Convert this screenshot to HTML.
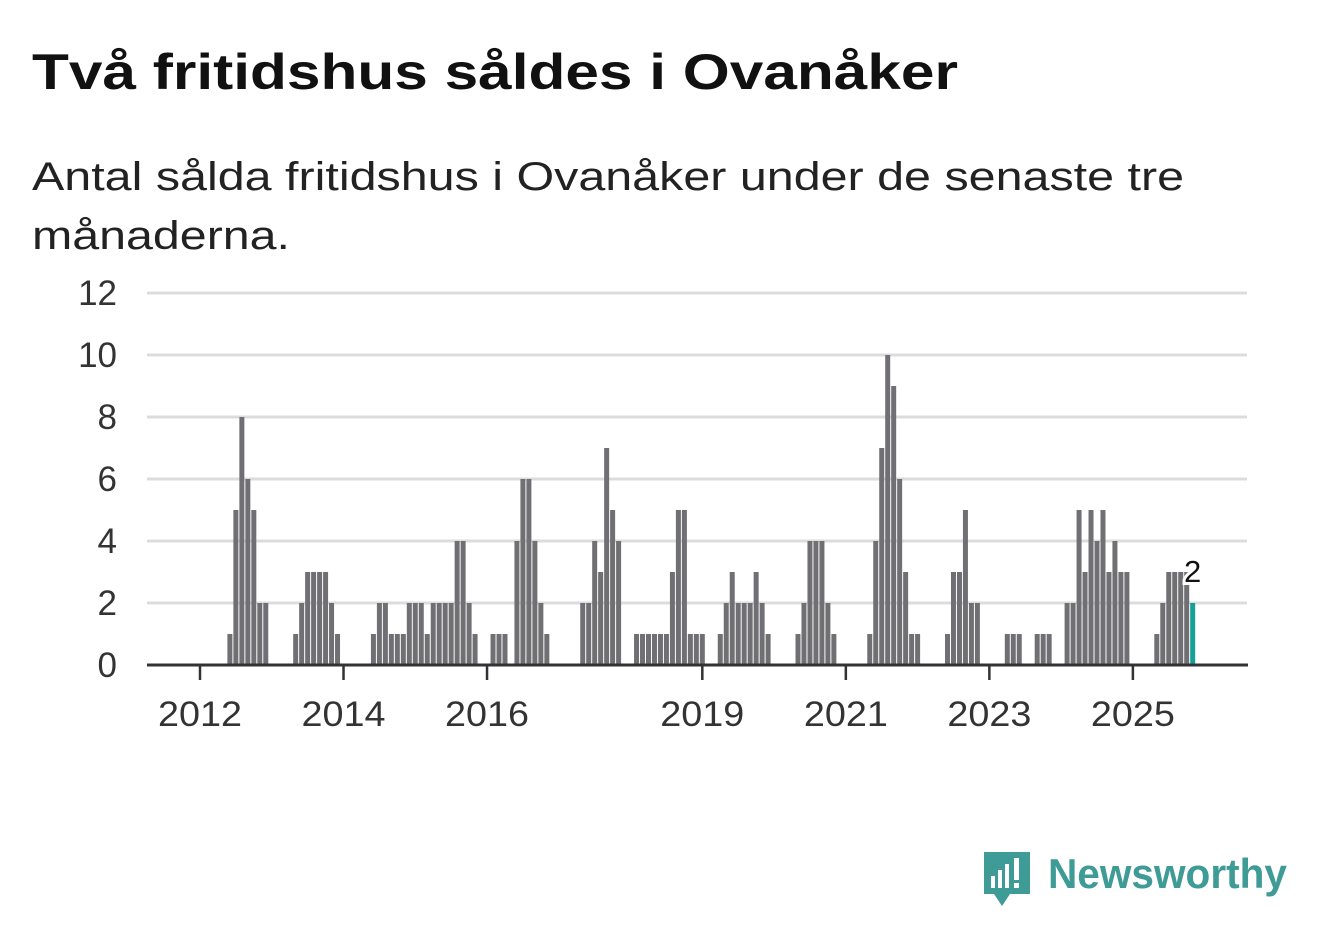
<!DOCTYPE html>
<html><head><meta charset="utf-8"><style>
html,body{margin:0;padding:0;background:#fff;}
svg{display:block;font-family:"Liberation Sans",sans-serif;}
</style></head><body>
<svg id="chart" width="1322" height="939" viewBox="0 0 1322 939">
<text x="32" y="89" font-size="50" font-weight="bold" fill="#111" textLength="926" lengthAdjust="spacingAndGlyphs">Två fritidshus såldes i Ovanåker</text>
<text x="32" y="190" font-size="40" fill="#222" textLength="1152" lengthAdjust="spacingAndGlyphs">Antal sålda fritidshus i Ovanåker under de senaste tre</text>
<text x="32" y="249" font-size="40" fill="#222" textLength="258" lengthAdjust="spacingAndGlyphs">månaderna.</text>
<g id="grid"></g>
<g id="bars"></g>
<g id="axes"></g>
<g>
<path d="M984 852 h46 v42 h-20 l-8 12 l-8 -12 h-10 z" fill="#3e9b95"/>
<rect x="991" y="876" width="4" height="12" fill="#fff"/><rect x="998" y="870" width="4" height="18" fill="#fff"/><rect x="1005" y="864" width="4" height="24" fill="#fff"/><rect x="1014" y="858" width="5" height="22" fill="#fff"/><rect x="1014" y="883" width="5" height="5" fill="#fff"/>
<text x="1048" y="888" font-size="42" font-weight="bold" fill="#3e9b95" textLength="239" lengthAdjust="spacingAndGlyphs">Newsworthy</text>
</g>
</svg>
<script>
const startYear = 2012;
const values2012 = [0,0,0,0,0,1,5,8,6,5,2,2];
const values2013 = [0,0,0,0,1,2,3,3,3,3,2,1];
const values2014 = [0,0,0,0,0,1,2,2,1,1,1,2];
const values2015 = [2,2,1,2,2,2,2,4,4,2,1,0];
const values2016 = [0,1,1,1,0,4,6,6,4,2,1,0];
const values2017 = [0,0,0,0,2,2,4,3,7,5,4,0];
const values2018 = [0,1,1,1,1,1,1,3,5,5,1,1];
const values2019 = [1,0,0,1,2,3,2,2,2,3,2,1];
const values2020 = [0,0,0,0,1,2,4,4,4,2,1,0];
const values2021 = [0,0,0,0,1,4,7,10,9,6,3,1];
const values2022 = [1,0,0,0,0,1,3,3,5,2,2,0];
const values2023 = [0,0,0,1,1,1,0,0,1,1,1,0];
const values2024 = [0,2,2,5,3,5,4,5,3,4,3,3];
const values2025 = [0,0,0,0,1,2,3,3,3,3,2];
const yTicks = [0,2,4,6,8,10,12];
const xTickYears = [2012,2014,2016,2019,2021,2023,2025];

const values = [].concat(values2012,values2013,values2014,values2015,values2016,values2017,values2018,values2019,values2020,values2021,values2022,values2023,values2024,values2025);
const NS = "http://www.w3.org/2000/svg";
const monthW = 5.98;
const x = m => 200 + m * monthW;
const y = v => 665 - v * 31;
function mk(tag, attrs, parent){const e=document.createElementNS(NS,tag);for(const k in attrs)e.setAttribute(k,attrs[k]);parent.appendChild(e);return e;}
const grid=document.getElementById('grid'), bars=document.getElementById('bars'), axes=document.getElementById('axes');
yTicks.forEach(t=>{
  if(t>0){const l=mk('line',{x1:147,x2:1247,y1:y(t),y2:y(t),stroke:'#dcdcdc','stroke-width':3},grid);
  
  }
  const tx=mk('text',{x:117,y:y(t)+12,'font-size':35,fill:'#333','text-anchor':'end'},axes);
  tx.textContent=t;
  
  
});
const last=values.length-1;
values.forEach((v,i)=>{
  if(v<=0)return;
  const r=mk('rect',{x:x(i)-2.5,y:y(v),width:5,height:y(0)-y(v),fill:i===last?'#17a196':'#707074'},bars);
  
  
});
const ax=mk('line',{x1:147,x2:1248,y1:665,y2:665,stroke:'#333','stroke-width':3},axes);


xTickYears.forEach(yr=>{
  const m=(yr-startYear)*12;
  const tk=mk('line',{x1:x(m),x2:x(m),y1:665,y2:680,stroke:'#333','stroke-width':2.5},axes);
  
  
  const tl=mk('text',{x:x(m),y:726,'font-size':35,fill:'#333','text-anchor':'middle',textLength:84,lengthAdjust:'spacingAndGlyphs'},axes);
  tl.textContent=yr;
  
  
});
const lbl=mk('text',{x:x(last),y:y(values[last])-21,'font-size':31,fill:'#111','text-anchor':'middle',stroke:'#fff','stroke-width':6,'paint-order':'stroke'},axes);
lbl.textContent=values[last];


</script>
</body></html>
